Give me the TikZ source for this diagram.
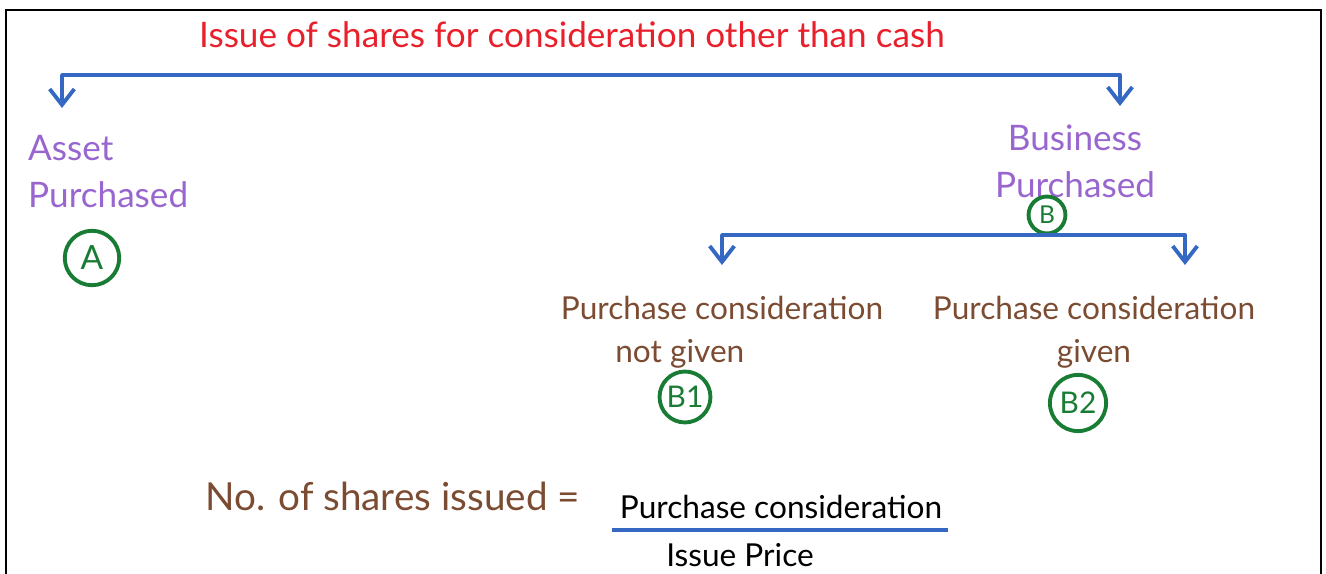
\documentclass[tikz,border=0pt]{standalone}
\usepackage{fontspec}
\setmainfont{Lato}
\usepackage{tikz}
\usetikzlibrary{arrows.meta}

\definecolor{penred}{RGB}{232,32,44}
\definecolor{penblue}{RGB}{52,104,194}
\definecolor{penpurple}{RGB}{152,102,206}
\definecolor{penbrown}{RGB}{124,76,50}
\definecolor{pengreen}{RGB}{24,124,52}

\begin{document}
\begin{tikzpicture}[x=0.02cm, y=-0.02cm,
    bar/.style={penblue, line width=2.2pt, line join=round,
                arrows={Straight Barb[length=9pt, width=14pt, line width=2.2pt]-Straight Barb[length=9pt, width=14pt, line width=2.2pt]}},
    heading/.style={text=penred, font=\fontsize{20}{24}\selectfont},
    kind/.style={text=penpurple, font=\fontsize{20}{27}\selectfont},
    case/.style={text=penbrown, font=\fontsize{18}{24}\selectfont, align=center},
    tag/.style={circle, draw=pengreen, line width=2.2pt, text=pengreen, inner sep=0pt,
                font=\fontsize{19}{20}\selectfont}]
    \useasboundingbox (0,0) rectangle (1326,574);
    % frame, open at the bottom
    \draw[line width=1.1pt] (6,574) -- (6,10) -- (1321,10) -- (1321,574);
    % title
    \node[heading, anchor=base] (title) at (572,48) {Issue of shares for consideration other than cash};
    % first split
    \coordinate (assetTip) at (62,108);
    \coordinate (splitR) at (1120,75);
    \coordinate (busTip) at (1120,106);
    \draw[bar] (assetTip) |- (splitR) -- (busTip);
    \node[kind, anchor=base west, align=left] (asset) at (22,208) {Asset\\Purchased};
    \node[tag, minimum size=31pt] (tagA) at (92,258) {A};
    \node[kind, anchor=base, align=center] (business) at (1075,198) {Business\\Purchased};
    \node[tag, minimum size=21pt, font=\fontsize{14}{15}\selectfont] (tagB) at (1047,215) {B};
    % second split
    \coordinate (notTip) at (722,265);
    \coordinate (givenR) at (1185,235);
    \coordinate (givenTip) at (1185,265);
    \draw[bar] (notTip) |- (givenR) -- (givenTip);
    \node[case, anchor=base] (notgiven) at (722,362) {Purchase consideration\\not given\hspace*{48pt}};
    \node[tag, minimum size=29pt, font=\fontsize{17}{18}\selectfont] (tagB1) at (685,397) {B1};
    \node[case, anchor=base] (given) at (1094,362) {Purchase consideration\\given};
    \node[tag, minimum size=32pt, font=\fontsize{17}{18}\selectfont] (tagB2) at (1078,403) {B2};
    % number of shares
    \node[text=penbrown, anchor=base west, inner sep=0pt, font=\fontsize{22}{26}\selectfont] (count) at (205,510) {No. of shares issued =};
    \node[anchor=base, font=\fontsize{18}{22}\selectfont] (pc) at (781,518) {Purchase consideration};
    \coordinate (fracL) at (612,530);
    \coordinate (fracR) at (948,530);
    \draw[penblue, line width=2.2pt] (fracL) -- (fracR);
    \node[anchor=base, font=\fontsize{18}{22}\selectfont] (price) at (740,566) {Issue Price};
\end{tikzpicture}
\end{document}
